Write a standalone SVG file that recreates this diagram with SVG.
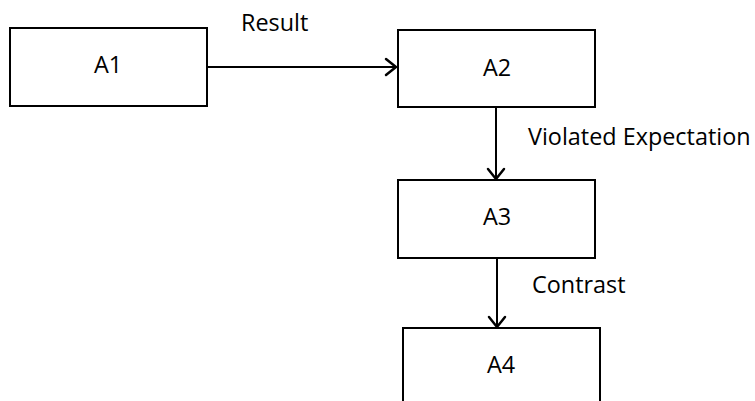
<svg xmlns="http://www.w3.org/2000/svg" width="755" height="401" viewBox="0 0 755 401">
<style>
.box{fill:#fff;stroke:#000;stroke-width:2}
.t{font-family:"Open Sans","Liberation Sans",Arial,sans-serif;font-size:23.4px;fill:#000}
.c{text-anchor:middle}
.edge{stroke:#000;stroke-width:2;fill:none}
.head{stroke:#000;stroke-width:2.5;fill:none;stroke-linecap:round;stroke-linejoin:miter}
</style>
<rect width="755" height="401" fill="#fff"/>
<g id="connectors">
<line class="edge" x1="207" y1="67" x2="396" y2="67"/>
<polyline class="head" points="386,59 396,67 386,75"/>
<text class="t" x="241" y="31">Result</text>
<line class="edge" x1="496" y1="107" x2="496" y2="179"/>
<polyline class="head" points="488,169 496,179 504,169"/>
<text class="t" x="528" y="145">Violated Expectation</text>
<line class="edge" x1="497" y1="258" x2="497" y2="327"/>
<polyline class="head" points="489,317 497,327 505,317"/>
<text class="t" x="532" y="293">Contrast</text>
</g>
<g id="A1"><rect class="box" x="10" y="28" width="197" height="78"/><text class="t c" x="108" y="73">A1</text></g>
<g id="A2"><rect class="box" x="398" y="30" width="197" height="77"/><text class="t c" x="497" y="76">A2</text></g>
<g id="A3"><rect class="box" x="398" y="180" width="197" height="78"/><text class="t c" x="497" y="225">A3</text></g>
<g id="A4"><rect class="box" x="403" y="328" width="197" height="90"/><text class="t c" x="501" y="373">A4</text></g>
</svg>
